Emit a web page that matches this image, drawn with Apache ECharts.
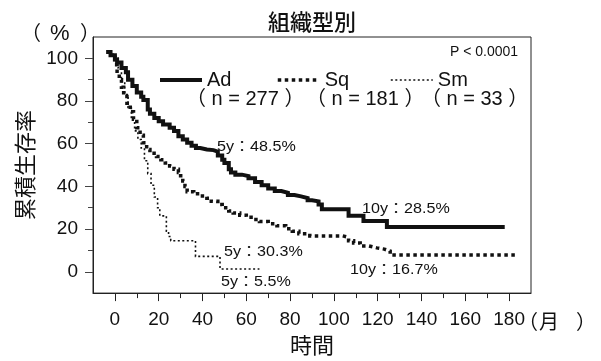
<!DOCTYPE html>
<html>
<head>
<meta charset="utf-8">
<script src="https://cdn.jsdelivr.net/npm/echarts@6/dist/echarts.min.js"></script>
<style>html,body{margin:0;padding:0;background:#fff;}#c{width:601px;height:361px;}</style>
</head>
<body>
<div id="c"></div>
<script>
// ---- data ----
const seriesNames = ['Ad', 'Sq', 'Sm'];
const nLabels = ['（ n = 277 ）', '（ n = 181 ）', '（ n = 33 ）'];
const adT = [-4, -2, 0, 1, 3, 5, 6, 8, 10, 12, 13, 15, 16, 18, 20, 22, 25, 27, 29, 31, 33, 35, 37, 39, 42, 45, 47, 49, 50, 52, 53, 55, 58, 61, 64, 67, 70, 73, 76, 79, 82, 85, 88, 90, 93, 94.5, 106.7, 113.5, 124.2, 178];
const adV = [103, 101.5, 99.5, 98, 95.5, 93.5, 90, 87, 84, 82, 80.5, 76, 74, 72, 70.5, 69, 67.5, 66, 63.5, 62, 60.5, 59, 58, 57.3, 57, 56.3, 54.5, 52.5, 51, 48, 46.5, 45.5, 44.8, 43.8, 42, 40.5, 39, 37.8, 37, 36, 35.3, 34.5, 33.5, 33, 31.5, 29.3, 26.2, 23.8, 21, 21];
const sqT = [-2, 0, 1, 2, 3, 4, 5.5, 7, 8.5, 10, 11.5, 13, 14.5, 16, 19, 21, 23, 25, 27, 29, 30, 31, 32, 33, 36, 39, 42, 44, 47, 49, 52, 54, 57, 60, 63, 66, 70, 74, 78, 81, 84, 89, 104, 106.7, 109, 112, 116, 119.6, 123, 125.7, 184];
const sqV = [101.5, 97, 93, 90, 86.5, 83, 79, 75, 71.5, 67.5, 64, 60.5, 57.3, 55.5, 54, 52.5, 51, 49.5, 48, 46.5, 45, 42.5, 40, 37.5, 36.5, 35.5, 34.5, 33, 31.5, 30, 28.5, 27.5, 26.5, 25.5, 24.5, 23.5, 22.5, 21.5, 20.2, 19, 17.8, 16.8, 16.1, 14.5, 13.5, 12.1, 11.2, 10.6, 9.7, 7.8, 7.8];
const smT = [0, 1.5, 3, 4.5, 6, 7.5, 9, 10.5, 12, 13.5, 15, 16.5, 18, 19.5, 20.5, 23.5, 24.5, 25.5, 36.8, 48, 66];
const smV = [101, 95.5, 89, 83, 77, 71, 66, 62, 58, 52, 46, 40.5, 35, 30, 26.2, 19, 16.5, 14.5, 7.2, 1.3, 1.3];
const xMajor = [0, 20, 40, 60, 80, 100, 120, 140, 160, 180];
const xMinor = [10, 30, 50, 70, 90, 110, 130, 150, 170];
const yMajor = [0, 20, 40, 60, 80, 100];
const yMinor = [10, 30, 50, 70, 90];
const notes = ['5y：48.5%', '10y：28.5%', '5y：30.3%', '10y：16.7%', '5y：5.5%'];
const pText = 'P < 0.0001';

const zip = (a, b) => a.map((t, i) => [t, b[i]]);
const LAT = "'Liberation Sans', Arial, 'Noto Sans CJK JP', sans-serif";
const CJK = "'Noto Sans CJK JP', sans-serif";
const ink = '#111';

const chart = echarts.init(document.getElementById('c'), null, {renderer: 'canvas'});

const styles = [
  {width: 4, type: 'solid'},
  {width: 3.5, type: [3.5, 3.5]},
  {width: 1.6, type: [2, 2.5]}
];
const datas = [zip(adT, adV), zip(sqT, sqV), zip(smT, smV)];
const legendLeft = [153, 271, 385];

function noteText(txt, x, y) {
  return {type: 'text', left: x, top: y, scaleX: 1.15,
    style: {text: txt, font: '14px ' + LAT, fill: ink}};
}

chart.setOption({
  animation: false,
  backgroundColor: '#fff',
  title: {text: '組織型別', left: 263, top: 6,
    textStyle: {fontFamily: 'Noto Sans CJK JP', fontSize: 22, fontWeight: 500, color: ink}},
  grid: {left: 93, right: 70, top: 37, bottom: 67, show: true, borderColor: '#222', borderWidth: 1, backgroundColor: 'transparent'},
  legend: seriesNames.map((n, i) => ({
    data: [n], left: legendLeft[i], top: 65, itemWidth: 42, itemHeight: 14, itemGap: 8,
    textStyle: {fontFamily: 'Liberation Sans', fontSize: 20, color: ink},
    lineStyle: {width: styles[i].width, type: styles[i].type, color: ink},
    itemStyle: {opacity: 0}
  })),
  xAxis: [
    {type: 'value', min: -10, max: 190, interval: 10, position: 'bottom',
      axisLine: {show: true, onZero: false, lineStyle: {color: '#222', width: 1}},
      axisTick: {show: true, length: 8, customValues: xMajor, lineStyle: {color: '#222'}},
      axisLabel: {customValues: xMajor, fontFamily: 'Liberation Sans', fontSize: 19, color: ink, margin: 17},
      splitLine: {show: false},
      name: '時間', nameLocation: 'middle', nameGap: 35,
      nameTextStyle: {fontFamily: 'Noto Sans CJK JP', fontSize: 22, color: ink}},
    {type: 'value', min: -10, max: 190, interval: 10, position: 'bottom',
      axisLine: {show: false, onZero: false},
      axisTick: {show: true, length: 5, customValues: xMinor, lineStyle: {color: '#222'}},
      axisLabel: {show: false}, splitLine: {show: false}}
  ],
  yAxis: [
    {type: 'value', min: -10, max: 110, interval: 10, position: 'left',
      axisLine: {show: true, onZero: false, lineStyle: {color: '#222', width: 1}},
      axisTick: {show: true, length: 8, customValues: yMajor, lineStyle: {color: '#444'}},
      axisLabel: {customValues: yMajor, fontFamily: 'Liberation Sans', fontSize: 19, color: ink, margin: 15},
      splitLine: {show: false},
      name: '累積生存率', nameLocation: 'middle', nameGap: 55,
      nameTextStyle: {fontFamily: 'Noto Sans CJK JP', fontSize: 22, color: ink}},
    {type: 'value', min: -10, max: 110, interval: 10, position: 'left',
      axisLine: {show: false, onZero: false},
      axisTick: {show: true, length: 5, customValues: yMinor, lineStyle: {color: '#444'}},
      axisLabel: {show: false}, splitLine: {show: false}}
  ],
  series: seriesNames.map((n, i) => ({
    name: n, type: 'line', step: 'end', data: datas[i], symbol: 'none',
    xAxisIndex: 0, yAxisIndex: 0,
    lineStyle: {color: ink, width: styles[i].width, type: styles[i].type, cap: 'butt', join: 'miter'},
    itemStyle: {color: ink}
  })),
  graphic: [
    {type: 'text', left: 21, top: 22, style: {text: '（', font: '20px ' + CJK, fill: ink}},
    {type: 'text', left: 50, top: 23, style: {text: '%', font: '22px ' + LAT, fill: ink}},
    {type: 'text', left: 80, top: 22, style: {text: '）', font: '20px ' + CJK, fill: ink}},
    {type: 'text', left: 518, top: 311, style: {text: '（', font: '20px ' + CJK, fill: ink}},
    {type: 'text', left: 539, top: 311, style: {text: '月', font: '20px ' + CJK, fill: ink}},
    {type: 'text', left: 576, top: 311, style: {text: '）', font: '20px ' + CJK, fill: ink}},
    {type: 'text', left: 186, top: 89, style: {text: nLabels[0], font: '20px ' + LAT, fill: ink}},
    {type: 'text', left: 306, top: 89, style: {text: nLabels[1], font: '20px ' + LAT, fill: ink}},
    {type: 'text', left: 421, top: 89, style: {text: nLabels[2], font: '20px ' + LAT, fill: ink}},
    {type: 'text', left: 450, top: 45, style: {text: pText, font: '14px ' + LAT, fill: ink}},
    noteText(notes[0], 217, 140),
    noteText(notes[1], 362, 202),
    noteText(notes[2], 224, 245),
    noteText(notes[3], 350, 263),
    noteText(notes[4], 221, 275)
  ]
});
</script>
</body>
</html>
